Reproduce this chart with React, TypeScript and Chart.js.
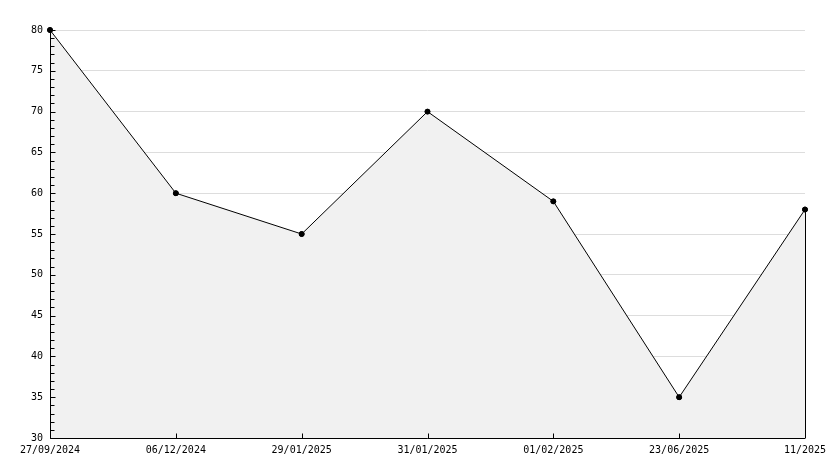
import React, { useEffect, useRef } from "react";
import { Chart, registerables } from "chart.js";

Chart.register(...registerables);

const categories = ["27/09/2024", "06/12/2024", "29/01/2025", "31/01/2025", "01/02/2025", "23/06/2025", "11/2025"];
const values = [80, 60, 55, 70, 59, 35, 58];
const yMin = 30;
const yMax = 80;
const yStep = 5;
const yMinorStep = 1;

const axisPlugin = {
  id: "axisPlugin",
  afterDatasetsDraw(chart: any) {
    const { ctx, chartArea, scales } = chart;
    const x = scales.x;
    const y = scales.y;
    ctx.save();
    ctx.strokeStyle = "#000";
    ctx.lineWidth = 1;
    const meta = chart.getDatasetMeta(0);
    const last = meta.data[meta.data.length - 1];
    ctx.beginPath();
    ctx.moveTo(Math.round(last.x) + 0.5, last.y);
    ctx.lineTo(Math.round(last.x) + 0.5, chartArea.bottom);
    ctx.stroke();
    const ax = Math.round(chartArea.left) + 0.5;
    const ay = Math.round(chartArea.bottom) + 0.5;
    ctx.beginPath();
    ctx.moveTo(ax, chartArea.top);
    ctx.lineTo(ax, ay);
    ctx.lineTo(chartArea.right, ay);
    ctx.stroke();
    ctx.beginPath();
    for (let v = yMin; v <= yMax; v += yMinorStep) {
      const py = Math.round(y.getPixelForValue(v)) + 0.5;
      const major = (v - yMin) % yStep === 0;
      ctx.moveTo(ax, py);
      ctx.lineTo(ax + (major ? 5 : 4), py);
    }
    for (let i = 0; i < categories.length; i++) {
      const px = Math.round(x.getPixelForValue(i)) + 0.5;
      ctx.moveTo(px, ay);
      ctx.lineTo(px, ay - 5);
    }
    ctx.stroke();
    // redraw points on top of axis
    ctx.fillStyle = "#000";
    for (const p of meta.data) {
      ctx.beginPath();
      ctx.arc(p.x, p.y, 2.7, 0, Math.PI * 2);
      ctx.fill();
    }
    ctx.restore();
  },
};

export default function App() {
  const ref = useRef<HTMLCanvasElement>(null);
  useEffect(() => {
    document.body.style.margin = "0";
    const chart = new Chart(ref.current!, {
      type: "line",
      data: {
        labels: categories,
        datasets: [
          {
            data: values,
            borderColor: "#000",
            borderWidth: 1,
            backgroundColor: "#f1f1f1",
            fill: "start",
            tension: 0,
            clip: false,
            pointStyle: "circle",
            pointRadius: 2.5,
            pointBackgroundColor: "#000",
            pointBorderColor: "#000",
            pointBorderWidth: 1,
          },
        ],
      },
      options: {
        animation: false,
        responsive: false,
        maintainAspectRatio: false,
        layout: { padding: { top: 30, right: 29, left: 0, bottom: 0 } },
        plugins: { legend: { display: false }, tooltip: { enabled: false } },
        scales: {
          x: {
            type: "category",
            offset: false,
            grid: { display: false, drawTicks: false },
            border: { display: false },
            afterFit: (s: any) => {
              s.height = 30;
            },
            ticks: {
              color: "#000",
              padding: 6,
              maxRotation: 0,
              autoSkip: false,
              font: { family: "DejaVu Sans Mono", size: 10 },
            },
          },
          y: {
            min: yMin,
            max: yMax,
            afterFit: (s: any) => {
              s.width = 50;
            },
            grid: { color: "#dddddd", drawTicks: false },
            border: { display: false },
            ticks: {
              stepSize: yStep,
              color: "#000",
              padding: 7,
              font: { family: "DejaVu Sans Mono", size: 10 },
            },
          },
        },
      },
      plugins: [axisPlugin],
    });
    return () => chart.destroy();
  }, []);
  return <canvas ref={ref} width={834} height={468} style={{ display: "block" }} />;
}
